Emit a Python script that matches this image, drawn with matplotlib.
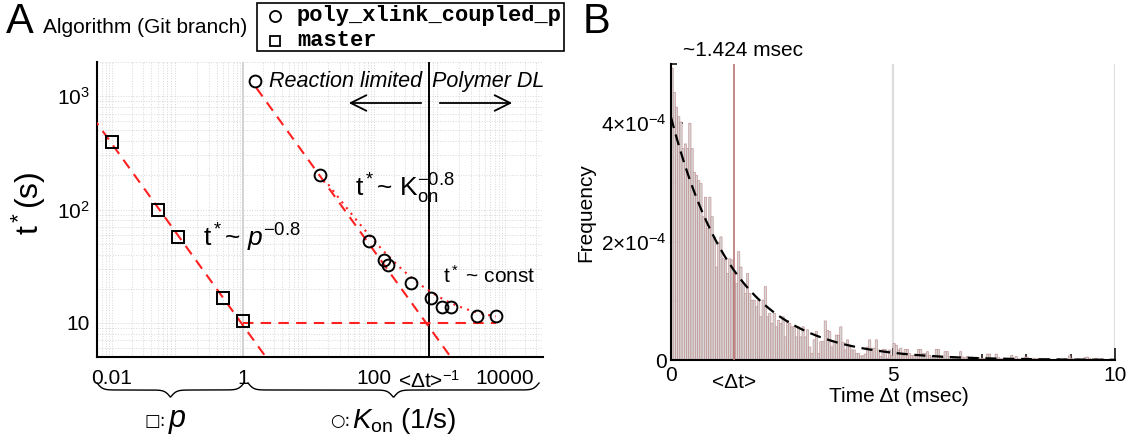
import numpy as np
import matplotlib
matplotlib.use("Agg")
import matplotlib.pyplot as plt
from matplotlib.lines import Line2D
from matplotlib.patches import Rectangle

plt.rcParams["font.family"] = ["Liberation Sans", "DejaVu Sans"]
plt.rcParams["mathtext.fontset"] = "custom"
plt.rcParams["mathtext.rm"] = "Liberation Sans"
plt.rcParams["mathtext.it"] = "Liberation Sans:italic"
plt.rcParams["mathtext.bf"] = "Liberation Sans:bold"

W, H = 1134, 441

# ---- panel A data ----
p_vals = [0.01, 0.05, 0.1, 0.5, 1.0]
t_master = [390, 100, 57, 16.7, 10.3]
kon_vals = [1.5, 15, 84, 140, 166, 367, 745, 1096, 1510, 3720, 7250]
t_coupled = [1364, 200, 53, 36, 32.5, 22.4, 16.7, 13.7, 13.7, 11.4, 11.4]
slope = -0.8
amp_p = 9.5        # t* = amp_p * p^-0.8
amp_kon = 1720     # t* = amp_kon * Kon^-0.8
t_plateau = 10
mean_dt_ms = 1.424
inv_dt = 1000.0 / mean_dt_ms

# ---- panel B data ----
bin_w = 0.05  # msec
freq_1e4 = [
    4.93, 4.52, 4.27, 4.11, 4.02, 3.57, 3.65, 3.57, 4.00, 3.57,
    3.17, 3.12, 3.03, 2.98, 2.42, 2.75, 2.22, 2.75, 2.42, 2.08,
    1.57, 1.99, 2.08, 1.71, 1.69, 1.46, 1.71, 1.69, 1.46, 1.29,
    1.83, 1.57, 1.29, 1.12, 1.46, 1.12, 1.01, 1.01, 0.90, 1.01,
    0.73, 1.01, 1.24, 0.73, 0.79, 0.62, 0.79, 0.56, 0.67, 0.62,
    0.73, 0.39, 0.67, 0.62, 0.56, 0.56, 0.39, 0.56, 0.39, 0.56,
    0.39, 0.51, 0.22, 0.11, 0.34, 0.48, 0.11, 0.31, 0.31, 0.66,
    0.50, 0.48, 0.22, 0.31, 0.42, 0.42, 0.56, 0.30, 0.17, 0.34,
    0.22, 0.17, 0.17, 0.11, 0.11, 0.07, 0.07, 0.10, 0.22, 0.34,
    0.20, 0.20, 0.34, 0.17, 0.06, 0.18, 0.18, 0.03, 0.17, 0.07,
    0.28, 0.25, 0.17, 0.20, 0.08, 0.18, 0.18, 0.11, 0.08, 0.08,
    0.06, 0.18, 0.18, 0.11, 0.11, 0.14, 0.08, 0.06, 0.08, 0.18,
    0.18, 0.06, 0.04, 0.14, 0.14, 0.06, 0.05, 0.06, 0.05, 0.04,
    0.14, 0.05, 0.04, 0.06, 0.04, 0.05, 0.04, 0.03, 0.04, 0.02,
    0.03, 0.02, 0.10, 0.10, 0.03, 0.02, 0.10, 0.04, 0.02, 0.02,
    0.03, 0.01, 0.02, 0.08, 0.03, 0.06, 0.02, 0.01, 0.03, 0.05,
    0.05, 0.02, 0.01, 0.03, 0.02, 0.03, 0.01, 0.02, 0.01, 0.02,
    0.02, 0.01, 0.01, 0.00, 0.02, 0.01, 0.01, 0.02, 0.01, 0.07,
    0.03, 0.01, 0.00, 0.02, 0.01, 0.00, 0.04, 0.05, 0.03, 0.01,
    0.00, 0.03, 0.00, 0.01, 0.02, 0.00, 0.01, 0.00, 0.01, 0.00,
]
fit_amp_1e4 = 4.1
scale = 1e-4


def fx(x):
    return x / W


def fy(y):
    return 1 - y / H


def brace(fig, x0, x1, y_top, depth, beta=0.35):
    xs = np.linspace(x0, x1, 400)
    half = xs[:200]
    yh = 1 / (1 + np.exp(-beta * (half - half[0]))) + 1 / (1 + np.exp(-beta * (half - half[-1])))
    ys = np.concatenate([yh, yh[::-1]])
    ys = y_top + (ys - 0.5) * depth
    fig.add_artist(Line2D(fx(xs), fy(ys), transform=fig.transFigure, color="black", lw=1.0))


fig = plt.figure(figsize=(W / 100, H / 100), dpi=100)

# ================= panel A =================
ax = fig.add_axes([fx(97), fy(357), (543 - 97) / W, (357 - 62) / H])
ax.set_xscale("log")
ax.set_yscale("log")
ax.set_xlim(0.0059, 38000)
ax.set_ylim(5, 2000)

ax.grid(which="both", ls=":", color="#d8d8d8", lw=0.7)
ax.axvline(1, color="#d0d0d0", lw=1.3, zorder=1)
ax.axvline(inv_dt, color="black", lw=1.4, zorder=2)

pp = np.geomspace(0.005, 3, 100)
ax.plot(pp, amp_p * pp ** slope, ls=(0, (5, 3.5)), color="#ff2020", lw=1.5, zorder=3)
kk = np.geomspace(1.6, 3000, 100)
ax.plot(kk, amp_kon * kk ** slope, ls=(0, (5, 3.5)), color="#ff2020", lw=1.5, zorder=3)
kd = np.geomspace(20, kon_vals[-1], 100)
ax.plot(kd, amp_kon * kd ** slope + t_plateau, ls=(0, (1, 2.5)), color="#ff2020", lw=1.5, zorder=3)
ax.plot([p_vals[-1], kon_vals[-1]], [t_plateau, t_plateau], ls=(0, (5, 3.5)),
        color="#ff2020", lw=1.5, zorder=3)

ax.plot(p_vals, t_master, ls="none", marker="s", ms=8, mfc="none", mec="black", mew=1.4, zorder=4)
ax.plot(kon_vals, t_coupled, ls="none", marker="o", ms=8.5, mfc="none", mec="black", mew=1.4, zorder=4)

ax.set_xticks([0.01, 1, 100, inv_dt, 10000])
ax.set_xticklabels(["0.01", "1", "100", "<\u0394t>$^{-1}$", "10000"])
ax.set_yticks([10, 100, 1000])
ax.set_yticklabels(["10", "$10^2$", "$10^3$"])
ax.tick_params(which="both", length=0, labelsize=15)
ax.tick_params(axis="x", pad=9)
ax.tick_params(axis="y", pad=5)
for s in ["top", "right"]:
    ax.spines[s].set_visible(False)
for s in ["left", "bottom"]:
    ax.spines[s].set_linewidth(1.5)

fig.text(fx(29), fy(203), "t$^*$(s)", rotation=90, fontsize=23, ha="center", va="center")

fig.text(fx(269), fy(87), "Reaction limited", fontsize=15.5, style="italic", va="baseline")
fig.text(fx(432), fy(87), "Polymer DL", fontsize=15.5, style="italic", va="baseline")
arrow = dict(arrowstyle="->", lw=1.3, mutation_scale=28, color="black")
ax.annotate("", xy=(346, H - 103), xytext=(424, H - 103), xycoords="figure pixels",
            textcoords="figure pixels", arrowprops=arrow)
ax.annotate("", xy=(515, H - 103), xytext=(437, H - 103), xycoords="figure pixels",
            textcoords="figure pixels", arrowprops=arrow)

fig.text(fx(355), fy(197), "t$^*$~ K$_{\\mathrm{on}}^{-0.8}$", fontsize=19, va="baseline")
fig.text(fx(203), fy(247), "t$^*$~ $p^{-0.8}$", fontsize=19, va="baseline")
fig.text(fx(443), fy(283), "t$^*$ ~ const", fontsize=15, va="baseline")

brace(fig, 97, 244, 383, 14)
brace(fig, 248, 539, 383, 14)
fig.text(fx(166), fy(421), "\u25a1:", family=["DejaVu Sans"], fontsize=12, ha="right", va="center")
fig.text(fx(168), fy(421), "$p$", fontsize=22, ha="left", va="center")
fig.text(fx(350), fy(421), "\u25cb:", family=["DejaVu Sans"], fontsize=12, ha="right", va="center")
fig.text(fx(352), fy(421), "$K_{\\mathrm{on}}$ (1/s)", fontsize=20, ha="left", va="center")

fig.text(fx(6), fy(33), "A", fontsize=30, va="baseline")
fig.text(fx(43), fy(33), "Algorithm (Git branch)", fontsize=15, va="baseline")
fig.add_artist(Rectangle((fx(257), fy(51)), (564 - 257) / W, (51 - 3) / H,
                         transform=fig.transFigure, fill=False, ec="black", lw=1.2))
fig.add_artist(Line2D([fx(275)], [fy(16)], marker="o", ms=8, mfc="none", mec="black",
                      mew=1.3, transform=fig.transFigure))
fig.add_artist(Line2D([fx(275)], [fy(41)], marker="s", ms=7, mfc="none", mec="black",
                      mew=1.3, transform=fig.transFigure))
fig.text(fx(297), fy(16), "poly_xlink_coupled_p", family="Liberation Mono", weight="bold",
         fontsize=15.8, va="center")
fig.text(fx(297), fy(41), "master", family="Liberation Mono", weight="bold",
         fontsize=15.8, va="center")

# ================= panel B =================
bx = fig.add_axes([fx(671), fy(360), (1115 - 671) / W, (360 - 64) / H])
edges = np.arange(len(freq_1e4)) * bin_w
heights = np.array(freq_1e4) * scale
bars = bx.bar(edges, heights, width=bin_w, align="edge", facecolor="#d8d8d8",
              edgecolor="#c08c8c", linewidth=0.45, zorder=2)
for b in bars:
    b.set_snap(False)
bx.axvline(5, color="#dddddd", lw=1.6, zorder=1)
bx.axvline(10, color="#dddddd", lw=1.6, zorder=1)
bx.axvline(mean_dt_ms, color="#b87474", lw=1.2, zorder=3)
tt = np.linspace(0, 10, 300)
bx.plot(tt, fit_amp_1e4 * scale * np.exp(-tt / mean_dt_ms), color="black", lw=1.6,
        ls=(0, (5, 3)), zorder=4)
bx.set_xlim(0, 10)
bx.set_ylim(0, 5e-4)
bx.set_xticks([0, 5, 10])
bx.set_xticks([1, 2, 3, 4, 6, 7, 8, 9], minor=True)
bx.set_yticks([0, 2e-4, 4e-4])
bx.set_yticklabels(["0", "$2{\\times}10^{-4}$", "$4{\\times}10^{-4}$"])
bx.set_yticks([1e-4, 3e-4, 5e-4], minor=True)
bx.tick_params(which="major", direction="in", length=8.5, width=1.1, labelsize=15)
bx.tick_params(which="minor", direction="in", length=4, width=1.1)
bx.tick_params(axis="x", pad=4)
bx.tick_params(axis="y", pad=3)
for s in ["top", "right"]:
    bx.spines[s].set_visible(False)
for s in ["left", "bottom"]:
    bx.spines[s].set_linewidth(1.5)
bx.text(mean_dt_ms, -0.045, "<\u0394t>", transform=bx.get_xaxis_transform(),
        ha="center", va="top", fontsize=15)
fig.text(fx(899), fy(397), "Time \u0394t (msec)", fontsize=15, ha="center", va="center")
fig.text(fx(586), fy(213), "Frequency", fontsize=15, rotation=90, ha="center", va="center")
fig.text(fx(583), fy(33), "B", fontsize=30, va="baseline")
fig.text(fx(683), fy(50), "~1.424 msec", fontsize=15, va="center")

fig.savefig("out.png", dpi=100)
